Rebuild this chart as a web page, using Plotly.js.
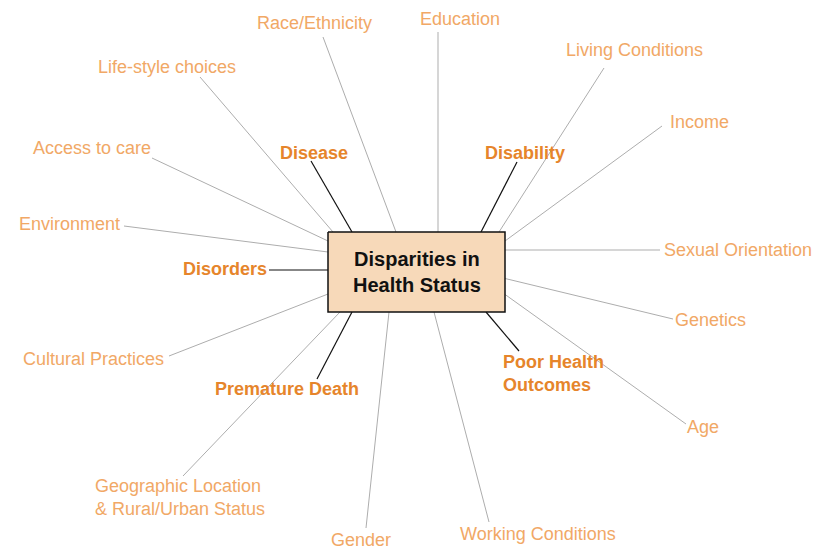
<!DOCTYPE html>
<html>
<head>
<meta charset="utf-8">
<script src="https://cdn.plot.ly/plotly-3.0.1.min.js"></script>
<style>
  html, body { margin: 0; padding: 0; background: #ffffff; }
  #chart { width: 815px; height: 549px; }
</style>
</head>
<body>
<div id="chart"></div>
<script>
// ---- Data ----
// Central concept
var centerText = ["Disparities in", "Health Status"];
var boxX = [328, 505];
var boxY = [232, 312];

// Determinant factors (light orange labels, grey connectors)
var factorNames = ["Race/Ethnicity", "Education", "Living Conditions", "Income",
  "Sexual Orientation", "Genetics", "Age", "Working Conditions", "Gender",
  "Geographic Location<br>& Rural/Urban Status", "Cultural Practices",
  "Environment", "Access to care", "Life-style choices"];
var factorLabelX = [314, 460, 634, 699, 738, 710, 703, 538, 361, 93, 93, 69, 92, 167];
var factorLabelY = [23, 19, 50, 122, 250, 320, 427, 534, 540, 497, 359, 224, 148, 67];
var factorAnchor = ["center", "center", "center", "center", "center", "center", "center",
  "center", "center", "left", "center", "center", "center", "center"];
var factorLineFromX = [396, 438, 499, 505, 505, 503, 503, 434, 389, 340, 328, 328, 328, 333];
var factorLineFromY = [232, 232, 232, 241, 250, 278, 293, 312, 312, 312, 294, 252, 241, 232];
var factorLineToX = [323, 438, 604, 662, 660, 673, 686, 489, 366, 183, 169, 124, 152, 200];
var factorLineToY = [37, 32, 68, 126, 250, 319, 424, 522, 528, 476, 356, 226, 158, 77];

// Outcomes (bold orange labels, black connectors)
var outcomeNames = ["Disease", "Disability", "Disorders", "Premature Death", "Poor Health<br>Outcomes"];
var outcomeLabelX = [314, 525, 225, 287, 501];
var outcomeLabelY = [153, 153, 269, 389, 373];
var outcomeAnchor = ["center", "center", "center", "center", "left"];
var outcomeLineFromX = [352, 481, 328, 352, 486];
var outcomeLineFromY = [232, 232, 270, 312, 312];
var outcomeLineToX = [311, 517, 269, 317, 519];
var outcomeLineToY = [161, 162, 270, 379, 351];

// ---- Build traces ----
function segs(x0, y0, x1, y1) {
  var xs = [], ys = [];
  for (var i = 0; i < x0.length; i++) {
    xs.push(x0[i], x1[i], null);
    ys.push(y0[i], y1[i], null);
  }
  return {x: xs, y: ys};
}
var fSeg = segs(factorLineFromX, factorLineFromY, factorLineToX, factorLineToY);
var oSeg = segs(outcomeLineFromX, outcomeLineFromY, outcomeLineToX, outcomeLineToY);

var traces = [
  {x: fSeg.x, y: fSeg.y, mode: "lines", type: "scatter", hoverinfo: "skip",
   line: {color: "#adadad", width: 1}},
  {x: oSeg.x, y: oSeg.y, mode: "lines", type: "scatter", hoverinfo: "skip",
   line: {color: "#111111", width: 1.2}},
  {x: [boxX[0], boxX[1], boxX[1], boxX[0], boxX[0]],
   y: [boxY[0], boxY[0], boxY[1], boxY[1], boxY[0]],
   mode: "lines", type: "scatter", fill: "toself", fillcolor: "#f7d9b9",
   hoverinfo: "skip", line: {color: "#111111", width: 1.5}}
];

var fontFam = "'Liberation Sans', Arial, sans-serif";
var annotations = [];
for (var i = 0; i < factorNames.length; i++) {
  annotations.push({x: factorLabelX[i], y: factorLabelY[i], text: factorNames[i],
    showarrow: false, xref: "x", yref: "y",
    xanchor: factorAnchor[i], yanchor: "middle", align: factorAnchor[i] === "left" ? "left" : "center",
    font: {family: fontFam, size: 18, color: "#f1a866"}});
}
for (var j = 0; j < outcomeNames.length; j++) {
  annotations.push({x: outcomeLabelX[j], y: outcomeLabelY[j], text: "<b>" + outcomeNames[j] + "</b>",
    showarrow: false, xref: "x", yref: "y",
    xanchor: outcomeAnchor[j], yanchor: "middle", align: outcomeAnchor[j] === "left" ? "left" : "center",
    font: {family: fontFam, size: 18, color: "#e6852b"}});
}
annotations.push({x: (boxX[0] + boxX[1]) / 2, y: (boxY[0] + boxY[1]) / 2,
  text: "<b>" + centerText.join("<br>") + "</b>", showarrow: false, xref: "x", yref: "y",
  xanchor: "center", yanchor: "middle", align: "center",
  font: {family: fontFam, size: 20, color: "#111111"}});

var layout = {
  width: 815, height: 549,
  margin: {l: 0, r: 0, t: 0, b: 0},
  paper_bgcolor: "#ffffff", plot_bgcolor: "#ffffff",
  showlegend: false,
  xaxis: {range: [0, 815], visible: false, fixedrange: true},
  yaxis: {range: [549, 0], visible: false, fixedrange: true},
  annotations: annotations
};

Plotly.newPlot("chart", traces, layout, {displayModeBar: false, staticPlot: true});
</script>
</body>
</html>
